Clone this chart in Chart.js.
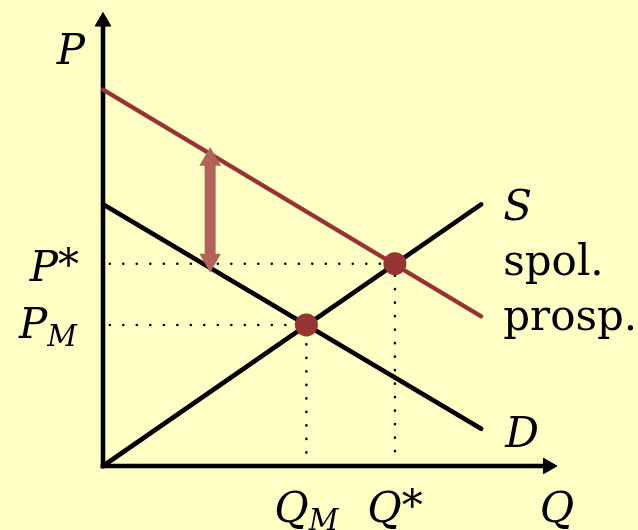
<!DOCTYPE html>
<html>
<head>
<meta charset="utf-8">
<script src="https://cdn.jsdelivr.net/npm/chart.js@4"></script>
<style>
  html, body { margin: 0; padding: 0; background: #FFFFC5; }
  #wrap { width: 638px; height: 530px; position: relative; }
</style>
</head>
<body>
<div id="wrap"><canvas id="c"></canvas></div>
<script>
// ---- data (axis units) ----
const qRange   = [0, 8.33];        // quantity span of the three curves
const demandP  = [5.77, 0.82];     // D at qRange ends
const supplyP  = [0, 5.77];        // S at qRange ends
const socialP  = [8.30, 3.30];     // social benefit ("spol. prosp.") at qRange ends
const equilQ   = [4.48, 6.43];     // Q_M, Q*
const equilP   = [3.11, 4.46];     // P_M, P*
const gapQ     = 2.36;             // where the externality gap arrow sits
const gapP     = [4.54, 6.76];     // arrow ends (heads)
const axisMax  = [10, 10];         // Q axis max, P axis max
const axisHead = [9.80, 9.80];     // arrowhead centres on axes

const BG = '#FFFFC5';
const BLACK = '#000000';
const RED = '#973333';
const DOT = '#963333';
const GAP = '#B2645A';

const dotted = {
  borderColor: BLACK, borderWidth: 2.6, borderDash: [0, 13.5],
  borderCapStyle: 'round', pointRadius: 0, fill: false, clip: false
};

const labels = {
  id: 'labels',
  afterDatasetsDraw(chart) {
    const ctx = chart.ctx, x = chart.scales.x, y = chart.scales.y;
    const X = v => x.getPixelForValue(v), Y = v => y.getPixelForValue(v);
    const FS = 42;
    const it = 'italic ' + FS + 'px "DejaVu Serif"';
    const rm = FS + 'px "DejaVu Serif"';
    const sub = 'italic 29px "DejaVu Serif"';
    ctx.save();
    ctx.fillStyle = BLACK;
    ctx.textBaseline = 'alphabetic';
    function comp(parts, px, py, align) {
      let w = 0;
      parts.forEach(p => { ctx.font = p[1]; p.w = ctx.measureText(p[0]).width; w += p.w; });
      let cx = align === 'right' ? px - w : align === 'center' ? px - w / 2 : px;
      parts.forEach(p => { ctx.font = p[1]; ctx.fillText(p[0], cx, py + (p[2] || 0)); cx += p.w; });
    }
    const x0 = X(0), y0 = Y(0);
    comp([['P', it]], x0 - 18, Y(axisMax[1]) + 51, 'right');
    comp([['P', it], ['*', rm, -2]], x0 - 24, Y(equilP[1]) + 17, 'right');
    comp([['P', it], ['M', sub, 8]], x0 - 26, Y(equilP[0]) + 13, 'right');
    comp([['Q', it], ['M', sub, 8]], X(equilQ[0]), y0 + 56, 'center');
    comp([['Q', it], ['*', rm, -2]], X(equilQ[1]), y0 + 56, 'center');
    comp([['Q', it]], X(axisMax[0]), y0 + 56, 'center');
    const xe = X(qRange[1]) + 22;
    comp([['S', it]], xe, Y(supplyP[1]) + 16, 'left');
    comp([['spol.', rm]], xe, Y(socialP[1]) - 41, 'left');
    comp([['prosp.', rm]], xe, Y(socialP[1]) + 14, 'left');
    comp([['D', it]], xe + 2, Y(demandP[1]) + 18, 'left');
    ctx.restore();
  }
};

const bgPlugin = {
  id: 'bg',
  beforeDraw(chart) {
    const ctx = chart.ctx;
    ctx.save(); ctx.fillStyle = BG; ctx.fillRect(0, 0, chart.width, chart.height); ctx.restore();
  }
};

new Chart(document.getElementById('c'), {
  type: 'scatter',
  data: {
    datasets: [
      { // equilibria
        data: [{x: equilQ[0], y: equilP[0]}, {x: equilQ[1], y: equilP[1]}],
        pointRadius: 11.5, pointBackgroundColor: DOT, pointBorderWidth: 0,
        showLine: false, clip: false
      },
      { // externality gap arrow
        data: [{x: gapQ, y: gapP[0]}, {x: gapQ, y: gapP[1]}],
        showLine: true, borderColor: GAP, borderWidth: 11, borderCapStyle: 'butt',
        pointStyle: 'triangle', pointRadius: 10.5, pointRotation: [180, 0],
        pointBackgroundColor: GAP, pointBorderColor: GAP, pointBorderWidth: 2, clip: false
      },
      { // social benefit
        data: [{x: qRange[0], y: socialP[0]}, {x: qRange[1], y: socialP[1]}],
        showLine: true, borderColor: RED, borderWidth: 4.2, borderCapStyle: 'round',
        pointRadius: 0, clip: false
      },
      { // supply
        data: [{x: qRange[0], y: supplyP[0]}, {x: qRange[1], y: supplyP[1]}],
        showLine: true, borderColor: BLACK, borderWidth: 4.6, borderCapStyle: 'round',
        pointRadius: 0, clip: false
      },
      { // demand
        data: [{x: qRange[0], y: demandP[0]}, {x: qRange[1], y: demandP[1]}],
        showLine: true, borderColor: BLACK, borderWidth: 4.6, borderCapStyle: 'round',
        pointRadius: 0, clip: false
      },
      Object.assign({ // P*, Q* guides
        data: [{x: 0.15, y: equilP[1]}, {x: equilQ[1], y: equilP[1]}, {x: equilQ[1], y: 0.25}],
        showLine: true
      }, dotted),
      Object.assign({ // P_M, Q_M guides
        data: [{x: 0.15, y: equilP[0]}, {x: equilQ[0], y: equilP[0]}, {x: equilQ[0], y: 0.25}],
        showLine: true
      }, dotted),
      { // Q axis
        data: [{x: 0, y: 0}, {x: axisHead[0], y: 0}],
        showLine: true, borderColor: BLACK, borderWidth: 4.6, borderCapStyle: 'square',
        pointStyle: 'triangle', pointRadius: [0, 9], pointRotation: [0, 90],
        pointBackgroundColor: BLACK, pointBorderColor: BLACK, pointBorderWidth: 1, clip: false
      },
      { // P axis
        data: [{x: 0, y: 0}, {x: 0, y: axisHead[1]}],
        showLine: true, borderColor: BLACK, borderWidth: 4.6, borderCapStyle: 'square',
        pointStyle: 'triangle', pointRadius: [0, 9], pointRotation: [0, 0],
        pointBackgroundColor: BLACK, pointBorderColor: BLACK, pointBorderWidth: 1, clip: false
      }
    ]
  },
  options: {
    responsive: true, maintainAspectRatio: false, animation: false,
    layout: { padding: { left: 103, top: 12, right: 81, bottom: 64 } },
    scales: {
      x: { type: 'linear', min: 0, max: axisMax[0], display: false },
      y: { type: 'linear', min: 0, max: axisMax[1], display: false }
    },
    plugins: { legend: { display: false }, tooltip: { enabled: false } },
    events: []
  },
  plugins: [bgPlugin, labels]
});
</script>
</body>
</html>
